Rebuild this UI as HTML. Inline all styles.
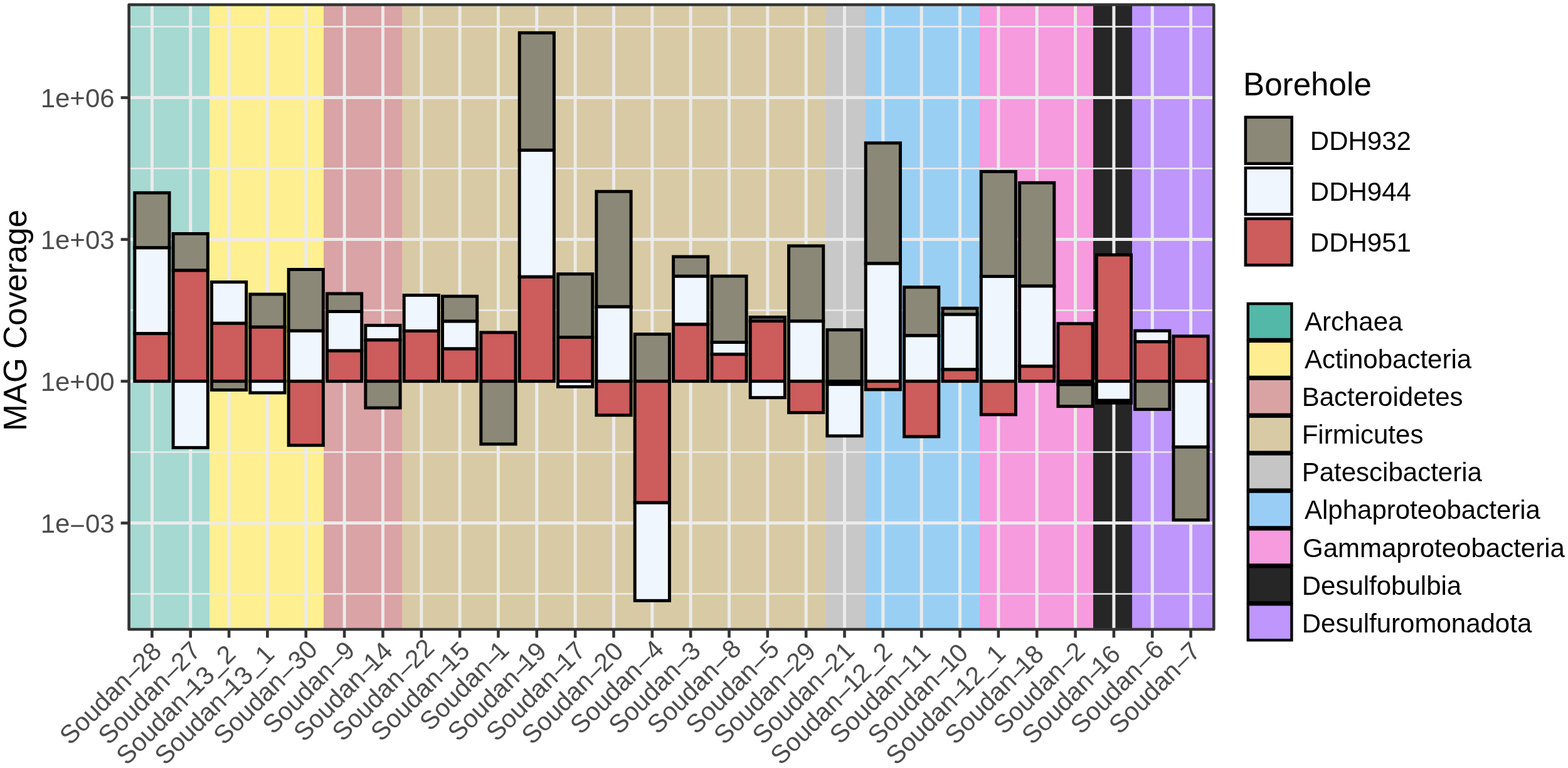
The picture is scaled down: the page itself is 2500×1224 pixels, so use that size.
<!DOCTYPE html>
<html><head><meta charset="utf-8"><title>MAG Coverage</title>
<style>html,body{margin:0;padding:0;background:#fff;overflow:hidden;}svg{display:block;}</style>
</head><body>
<svg width="2500" height="1224" viewBox="0 0 2500 1224">
<rect x="0" y="0" width="2500" height="1224" fill="#FFFFFF"/>
<g shape-rendering="crispEdges">
<rect x="205.6" y="7.5" width="128" height="995.5" fill="#A6D9D2"/>
<rect x="333.6" y="7.5" width="182.4" height="995.5" fill="#FEEF90"/>
<rect x="516" y="7.5" width="125.1" height="995.5" fill="#DAA3A5"/>
<rect x="641.1" y="7.5" width="675.3" height="995.5" fill="#D8CAA4"/>
<rect x="1316.4" y="7.5" width="63.6" height="995.5" fill="#C8C8C8"/>
<rect x="1380" y="7.5" width="181.8" height="995.5" fill="#9ACFF4"/>
<rect x="1561.8" y="7.5" width="181.2" height="995.5" fill="#F59BDE"/>
<rect x="1743" y="7.5" width="62.4" height="995.5" fill="#262626"/>
<rect x="1805.4" y="7.5" width="129.9" height="995.5" fill="#BE96FC"/>
</g>
<g stroke="#EBEBEB" fill="none">
<line x1="205.6" y1="42.62" x2="1935.3" y2="42.62" stroke-width="2.5"/>
<line x1="205.6" y1="268.62" x2="1935.3" y2="268.62" stroke-width="2.5"/>
<line x1="205.6" y1="494.61" x2="1935.3" y2="494.61" stroke-width="2.5"/>
<line x1="205.6" y1="720.6" x2="1935.3" y2="720.6" stroke-width="2.5"/>
<line x1="205.6" y1="946.59" x2="1935.3" y2="946.59" stroke-width="2.5"/>
<line x1="205.6" y1="155.62" x2="1935.3" y2="155.62" stroke-width="5"/>
<line x1="205.6" y1="381.61" x2="1935.3" y2="381.61" stroke-width="5"/>
<line x1="205.6" y1="607.6" x2="1935.3" y2="607.6" stroke-width="5"/>
<line x1="205.6" y1="833.59" x2="1935.3" y2="833.59" stroke-width="5"/>
<line x1="242.4" y1="7.5" x2="242.4" y2="1003" stroke-width="5"/>
<line x1="303.74" y1="7.5" x2="303.74" y2="1003" stroke-width="5"/>
<line x1="365.08" y1="7.5" x2="365.08" y2="1003" stroke-width="5"/>
<line x1="426.42" y1="7.5" x2="426.42" y2="1003" stroke-width="5"/>
<line x1="487.76" y1="7.5" x2="487.76" y2="1003" stroke-width="5"/>
<line x1="549.1" y1="7.5" x2="549.1" y2="1003" stroke-width="5"/>
<line x1="610.44" y1="7.5" x2="610.44" y2="1003" stroke-width="5"/>
<line x1="671.78" y1="7.5" x2="671.78" y2="1003" stroke-width="5"/>
<line x1="733.12" y1="7.5" x2="733.12" y2="1003" stroke-width="5"/>
<line x1="794.46" y1="7.5" x2="794.46" y2="1003" stroke-width="5"/>
<line x1="855.8" y1="7.5" x2="855.8" y2="1003" stroke-width="5"/>
<line x1="917.14" y1="7.5" x2="917.14" y2="1003" stroke-width="5"/>
<line x1="978.48" y1="7.5" x2="978.48" y2="1003" stroke-width="5"/>
<line x1="1039.82" y1="7.5" x2="1039.82" y2="1003" stroke-width="5"/>
<line x1="1101.16" y1="7.5" x2="1101.16" y2="1003" stroke-width="5"/>
<line x1="1162.5" y1="7.5" x2="1162.5" y2="1003" stroke-width="5"/>
<line x1="1223.84" y1="7.5" x2="1223.84" y2="1003" stroke-width="5"/>
<line x1="1285.18" y1="7.5" x2="1285.18" y2="1003" stroke-width="5"/>
<line x1="1346.52" y1="7.5" x2="1346.52" y2="1003" stroke-width="5"/>
<line x1="1407.86" y1="7.5" x2="1407.86" y2="1003" stroke-width="5"/>
<line x1="1469.2" y1="7.5" x2="1469.2" y2="1003" stroke-width="5"/>
<line x1="1530.54" y1="7.5" x2="1530.54" y2="1003" stroke-width="5"/>
<line x1="1591.88" y1="7.5" x2="1591.88" y2="1003" stroke-width="5"/>
<line x1="1653.22" y1="7.5" x2="1653.22" y2="1003" stroke-width="5"/>
<line x1="1714.56" y1="7.5" x2="1714.56" y2="1003" stroke-width="5"/>
<line x1="1775.9" y1="7.5" x2="1775.9" y2="1003" stroke-width="5"/>
<line x1="1837.24" y1="7.5" x2="1837.24" y2="1003" stroke-width="5"/>
<line x1="1898.58" y1="7.5" x2="1898.58" y2="1003" stroke-width="5"/>
</g>
<g stroke="#000000" stroke-width="5" stroke-linejoin="miter">
<rect x="214.8" y="307.3" width="55.2" height="87.6" fill="#8B8878"/>
<rect x="214.8" y="394.9" width="55.2" height="136.7" fill="#F0F6FD"/>
<rect x="214.8" y="531.6" width="55.2" height="76" fill="#CD5C5C"/>
<rect x="276.14" y="372.5" width="55.2" height="58.5" fill="#8B8878"/>
<rect x="276.14" y="431" width="55.2" height="176.6" fill="#CD5C5C"/>
<rect x="276.14" y="607.6" width="55.2" height="105.8" fill="#F0F6FD"/>
<rect x="337.48" y="449.5" width="55.2" height="65.8" fill="#F0F6FD"/>
<rect x="337.48" y="515.3" width="55.2" height="92.3" fill="#CD5C5C"/>
<rect x="337.48" y="607.6" width="55.2" height="13.9" fill="#8B8878"/>
<rect x="398.82" y="469" width="55.2" height="52.3" fill="#8B8878"/>
<rect x="398.82" y="521.3" width="55.2" height="86.3" fill="#CD5C5C"/>
<rect x="398.82" y="607.6" width="55.2" height="18.4" fill="#F0F6FD"/>
<rect x="460.16" y="429.5" width="55.2" height="97.8" fill="#8B8878"/>
<rect x="460.16" y="527.3" width="55.2" height="80.3" fill="#F0F6FD"/>
<rect x="460.16" y="607.6" width="55.2" height="102.1" fill="#CD5C5C"/>
<rect x="521.5" y="468" width="55.2" height="28.5" fill="#8B8878"/>
<rect x="521.5" y="496.5" width="55.2" height="62.6" fill="#F0F6FD"/>
<rect x="521.5" y="559.1" width="55.2" height="48.5" fill="#CD5C5C"/>
<rect x="582.84" y="518.6" width="55.2" height="23.3" fill="#F0F6FD"/>
<rect x="582.84" y="541.9" width="55.2" height="65.7" fill="#CD5C5C"/>
<rect x="582.84" y="607.6" width="55.2" height="42.4" fill="#8B8878"/>
<rect x="644.18" y="470.5" width="55.2" height="57" fill="#F0F6FD"/>
<rect x="644.18" y="527.5" width="55.2" height="80.1" fill="#CD5C5C"/>
<rect x="705.52" y="472.2" width="55.2" height="39.9" fill="#8B8878"/>
<rect x="705.52" y="512.1" width="55.2" height="43.9" fill="#F0F6FD"/>
<rect x="705.52" y="556" width="55.2" height="51.6" fill="#CD5C5C"/>
<rect x="766.86" y="529.9" width="55.2" height="77.7" fill="#CD5C5C"/>
<rect x="766.86" y="607.6" width="55.2" height="100.2" fill="#8B8878"/>
<rect x="828.2" y="52.3" width="55.2" height="187.1" fill="#8B8878"/>
<rect x="828.2" y="239.4" width="55.2" height="201.9" fill="#F0F6FD"/>
<rect x="828.2" y="441.3" width="55.2" height="166.3" fill="#CD5C5C"/>
<rect x="889.54" y="436.7" width="55.2" height="100.8" fill="#8B8878"/>
<rect x="889.54" y="537.5" width="55.2" height="70.1" fill="#CD5C5C"/>
<rect x="889.54" y="607.6" width="55.2" height="8.8" fill="#F0F6FD"/>
<rect x="950.88" y="305.2" width="55.2" height="183.8" fill="#8B8878"/>
<rect x="950.88" y="489" width="55.2" height="118.6" fill="#F0F6FD"/>
<rect x="950.88" y="607.6" width="55.2" height="54.1" fill="#CD5C5C"/>
<rect x="1012.22" y="532.6" width="55.2" height="75" fill="#8B8878"/>
<rect x="1012.22" y="607.6" width="55.2" height="193.6" fill="#CD5C5C"/>
<rect x="1012.22" y="801.2" width="55.2" height="156.1" fill="#F0F6FD"/>
<rect x="1073.56" y="409.1" width="55.2" height="31.2" fill="#8B8878"/>
<rect x="1073.56" y="440.3" width="55.2" height="76.7" fill="#F0F6FD"/>
<rect x="1073.56" y="517" width="55.2" height="90.6" fill="#CD5C5C"/>
<rect x="1134.9" y="440.1" width="55.2" height="105.4" fill="#8B8878"/>
<rect x="1134.9" y="545.5" width="55.2" height="19.2" fill="#F0F6FD"/>
<rect x="1134.9" y="564.7" width="55.2" height="42.9" fill="#CD5C5C"/>
<rect x="1196.24" y="505.5" width="55.2" height="6.2" fill="#8B8878"/>
<rect x="1196.24" y="511.7" width="55.2" height="95.9" fill="#CD5C5C"/>
<rect x="1196.24" y="607.6" width="55.2" height="26.1" fill="#F0F6FD"/>
<rect x="1257.58" y="391.9" width="55.2" height="120" fill="#8B8878"/>
<rect x="1257.58" y="511.9" width="55.2" height="95.7" fill="#F0F6FD"/>
<rect x="1257.58" y="607.6" width="55.2" height="50" fill="#CD5C5C"/>
<rect x="1318.92" y="525.7" width="55.2" height="81.9" fill="#8B8878"/>
<rect x="1318.92" y="607.6" width="55.2" height="5" fill="#CD5C5C"/>
<rect x="1318.92" y="612.6" width="55.2" height="82.2" fill="#F0F6FD"/>
<rect x="1380.26" y="227.9" width="55.2" height="192.1" fill="#8B8878"/>
<rect x="1380.26" y="420" width="55.2" height="187.6" fill="#F0F6FD"/>
<rect x="1380.26" y="607.6" width="55.2" height="13.3" fill="#CD5C5C"/>
<rect x="1441.6" y="457.7" width="55.2" height="77.2" fill="#8B8878"/>
<rect x="1441.6" y="534.9" width="55.2" height="72.7" fill="#F0F6FD"/>
<rect x="1441.6" y="607.6" width="55.2" height="88.3" fill="#CD5C5C"/>
<rect x="1502.94" y="491.3" width="55.2" height="9.9" fill="#8B8878"/>
<rect x="1502.94" y="501.2" width="55.2" height="87.8" fill="#F0F6FD"/>
<rect x="1502.94" y="589" width="55.2" height="18.6" fill="#CD5C5C"/>
<rect x="1564.28" y="273.5" width="55.2" height="167" fill="#8B8878"/>
<rect x="1564.28" y="440.5" width="55.2" height="167.1" fill="#F0F6FD"/>
<rect x="1564.28" y="607.6" width="55.2" height="53.2" fill="#CD5C5C"/>
<rect x="1625.62" y="291.3" width="55.2" height="164.7" fill="#8B8878"/>
<rect x="1625.62" y="456" width="55.2" height="127.8" fill="#F0F6FD"/>
<rect x="1625.62" y="583.8" width="55.2" height="23.8" fill="#CD5C5C"/>
<rect x="1686.96" y="515.8" width="55.2" height="91.8" fill="#CD5C5C"/>
<rect x="1686.96" y="607.6" width="55.2" height="5.3" fill="#F0F6FD"/>
<rect x="1686.96" y="612.9" width="55.2" height="34.7" fill="#8B8878"/>
<rect x="1748.3" y="406.2" width="55.2" height="201.4" fill="#CD5C5C"/>
<rect x="1748.3" y="607.6" width="55.2" height="30.7" fill="#F0F6FD"/>
<rect x="1748.3" y="638.3" width="55.2" height="3.9" fill="#8B8878"/>
<rect x="1809.64" y="527.2" width="55.2" height="17.5" fill="#F0F6FD"/>
<rect x="1809.64" y="544.7" width="55.2" height="62.9" fill="#CD5C5C"/>
<rect x="1809.64" y="607.6" width="55.2" height="44.8" fill="#8B8878"/>
<rect x="1870.98" y="535.8" width="55.2" height="71.8" fill="#CD5C5C"/>
<rect x="1870.98" y="607.6" width="55.2" height="104.8" fill="#F0F6FD"/>
<rect x="1870.98" y="712.4" width="55.2" height="116.4" fill="#8B8878"/>
</g>
<rect x="205.6" y="7.5" width="1729.7" height="995.5" fill="none" stroke="#333333" stroke-width="4.6" stroke-linejoin="round"/>
<g stroke="#333333" stroke-width="4.6">
<line x1="192.6" y1="155.62" x2="205.6" y2="155.62"/>
<line x1="192.6" y1="381.61" x2="205.6" y2="381.61"/>
<line x1="192.6" y1="607.6" x2="205.6" y2="607.6"/>
<line x1="192.6" y1="833.59" x2="205.6" y2="833.59"/>
<line x1="242.4" y1="1003" x2="242.4" y2="1016.3"/>
<line x1="303.74" y1="1003" x2="303.74" y2="1016.3"/>
<line x1="365.08" y1="1003" x2="365.08" y2="1016.3"/>
<line x1="426.42" y1="1003" x2="426.42" y2="1016.3"/>
<line x1="487.76" y1="1003" x2="487.76" y2="1016.3"/>
<line x1="549.1" y1="1003" x2="549.1" y2="1016.3"/>
<line x1="610.44" y1="1003" x2="610.44" y2="1016.3"/>
<line x1="671.78" y1="1003" x2="671.78" y2="1016.3"/>
<line x1="733.12" y1="1003" x2="733.12" y2="1016.3"/>
<line x1="794.46" y1="1003" x2="794.46" y2="1016.3"/>
<line x1="855.8" y1="1003" x2="855.8" y2="1016.3"/>
<line x1="917.14" y1="1003" x2="917.14" y2="1016.3"/>
<line x1="978.48" y1="1003" x2="978.48" y2="1016.3"/>
<line x1="1039.82" y1="1003" x2="1039.82" y2="1016.3"/>
<line x1="1101.16" y1="1003" x2="1101.16" y2="1016.3"/>
<line x1="1162.5" y1="1003" x2="1162.5" y2="1016.3"/>
<line x1="1223.84" y1="1003" x2="1223.84" y2="1016.3"/>
<line x1="1285.18" y1="1003" x2="1285.18" y2="1016.3"/>
<line x1="1346.52" y1="1003" x2="1346.52" y2="1016.3"/>
<line x1="1407.86" y1="1003" x2="1407.86" y2="1016.3"/>
<line x1="1469.2" y1="1003" x2="1469.2" y2="1016.3"/>
<line x1="1530.54" y1="1003" x2="1530.54" y2="1016.3"/>
<line x1="1591.88" y1="1003" x2="1591.88" y2="1016.3"/>
<line x1="1653.22" y1="1003" x2="1653.22" y2="1016.3"/>
<line x1="1714.56" y1="1003" x2="1714.56" y2="1016.3"/>
<line x1="1775.9" y1="1003" x2="1775.9" y2="1016.3"/>
<line x1="1837.24" y1="1003" x2="1837.24" y2="1016.3"/>
<line x1="1898.58" y1="1003" x2="1898.58" y2="1016.3"/>
</g>
<g font-family="'Liberation Sans', Arial, Helvetica, sans-serif" font-size="42" fill="#4D4D4D" text-anchor="end">
<text transform="translate(182.6 170.82)">1e+06</text>
<text transform="translate(182.6 396.81)">1e+03</text>
<text transform="translate(182.6 622.8)">1e+00</text>
<text transform="translate(182.6 848.79)">1e<tspan dy="3.4">−</tspan><tspan dy="-3.4">03</tspan></text>
<text font-size="41" text-anchor="start" transform="translate(259.9 1040.7) rotate(-45)" x="-209.28" dx="0 0 0 0 0 0 2.32 -2.8 0">Soudan–28</text>
<text font-size="41" text-anchor="start" transform="translate(321.24 1040.7) rotate(-45)" x="-209.08" dx="0 0 0 0 0 0 2.12 -2 0.7">Soudan–27</text>
<text font-size="41" text-anchor="start" transform="translate(378.34 1044.94) rotate(-45)" x="-248.91" dx="0 0 0 0 0 0 1.82 -10.3 0 1.02 0.5" dy="0 0 0 0 0 0 0 0 0 -2.7 2.7">Soudan–13_2</text>
<text font-size="41" text-anchor="start" transform="translate(439.68 1044.94) rotate(-45)" x="-249.01" dx="0 0 0 0 0 0 1.62 -10 0 0.82 1.2" dy="0 0 0 0 0 0 0 0 0 -2.7 2.7">Soudan–13_1</text>
<text font-size="41" text-anchor="start" transform="translate(505.26 1040.7) rotate(-45)" x="-209.28" dx="0 0 0 0 0 0 2.32 1.4 0.3">Soudan–30</text>
<text font-size="41" text-anchor="start" transform="translate(566.6 1040.7) rotate(-45)" x="-185.38" dx="0 0 0 0 0 0 1.72 -1.1">Soudan–9</text>
<text font-size="41" text-anchor="start" transform="translate(627.94 1040.7) rotate(-45)" x="-202.28" dx="0 0 0 0 0 0 2.02 -8.4 -0.6">Soudan–14</text>
<text font-size="41" text-anchor="start" transform="translate(689.28 1040.7) rotate(-45)" x="-201.78" dx="0 0 0 0 0 0 1.82 -2.2 0.3">Soudan–22</text>
<text font-size="41" text-anchor="start" transform="translate(750.62 1040.7) rotate(-45)" x="-201.58" dx="0 0 0 0 0 0 1.82 -9 0">Soudan–15</text>
<text font-size="41" text-anchor="start" transform="translate(811.96 1040.7) rotate(-45)" x="-177.98" dx="0 0 0 0 0 0 2.02 -8">Soudan–1</text>
<text font-size="41" text-anchor="start" transform="translate(873.3 1040.7) rotate(-45)" x="-201.78" dx="0 0 0 0 0 0 2.02 -8.7 -0.8">Soudan–19</text>
<text font-size="41" text-anchor="start" transform="translate(934.64 1040.7) rotate(-45)" x="-201.78" dx="0 0 0 0 0 0 1.82 -7.8 -0.4">Soudan–17</text>
<text font-size="41" text-anchor="start" transform="translate(995.98 1040.7) rotate(-45)" x="-208.58" dx="0 0 0 0 0 0 1.82 -3 0.3">Soudan–20</text>
<text font-size="41" text-anchor="start" transform="translate(1057.32 1040.7) rotate(-45)" x="-185.78" dx="0 0 0 0 0 0 2.12 1.4">Soudan–4</text>
<text font-size="41" text-anchor="start" transform="translate(1118.66 1040.7) rotate(-45)" x="-185.68" dx="0 0 0 0 0 0 1.92 -1.9">Soudan–3</text>
<text font-size="41" text-anchor="start" transform="translate(1180 1040.7) rotate(-45)" x="-185.48" dx="0 0 0 0 0 0 2.12 2.3">Soudan–8</text>
<text font-size="41" text-anchor="start" transform="translate(1241.34 1040.7) rotate(-45)" x="-185.48" dx="0 0 0 0 0 0 1.92 1.6">Soudan–5</text>
<text font-size="41" text-anchor="start" transform="translate(1302.68 1040.7) rotate(-45)" x="-208.78" dx="0 0 0 0 0 0 2.02 -2.7 0">Soudan–29</text>
<text font-size="41" text-anchor="start" transform="translate(1364.02 1040.7) rotate(-45)" x="-208.58" dx="0 0 0 0 0 0 1.82 -3 0.7">Soudan–21</text>
<text font-size="41" text-anchor="start" transform="translate(1421.12 1044.94) rotate(-45)" x="-248.61" dx="0 0 0 0 0 0 1.22 -2.5 -1.3 0.42 0.7" dy="0 0 0 0 0 0 0 0 0 -2.7 2.7">Soudan–12_2</text>
<text font-size="41" text-anchor="start" transform="translate(1486.7 1040.7) rotate(-45)" x="-207.73" dx="0 0 0 0 0 0 0.92 -4.2 2.9">Soudan–11</text>
<text font-size="41" text-anchor="start" transform="translate(1548.04 1040.7) rotate(-45)" x="-208.58" dx="0 0 0 0 0 0 1.72 -4.6 -1.5">Soudan–10</text>
<text font-size="41" text-anchor="start" transform="translate(1605.14 1044.94) rotate(-45)" x="-248.91" dx="0 0 0 0 0 0 1.52 -9.4 -0.2 0.82 1.8" dy="0 0 0 0 0 0 0 0 0 -2.7 2.7">Soudan–12_1</text>
<text font-size="41" text-anchor="start" transform="translate(1670.72 1040.7) rotate(-45)" x="-208.58" dx="0 0 0 0 0 0 2.02 -8.6 -0.5">Soudan–18</text>
<text font-size="41" text-anchor="start" transform="translate(1732.06 1040.7) rotate(-45)" x="-185.78" dx="0 0 0 0 0 0 1.82 -2.6">Soudan–2</text>
<text font-size="41" text-anchor="start" transform="translate(1793.4 1040.7) rotate(-45)" x="-208.58" dx="0 0 0 0 0 0 1.62 -9.1 -0.1">Soudan–16</text>
<text font-size="41" text-anchor="start" transform="translate(1854.74 1040.7) rotate(-45)" x="-185.38" dx="0 0 0 0 0 0 2.02 1.1">Soudan–6</text>
<text font-size="41" text-anchor="start" transform="translate(1916.08 1040.7) rotate(-45)" x="-185.38" dx="0 0 0 0 0 0 1.92 -3">Soudan–7</text>
</g>
<text font-family="'Liberation Sans', Arial, Helvetica, sans-serif" font-size="51.2" fill="#000000" text-anchor="middle" transform="translate(42.3 510.5) rotate(-90)">MAG Coverage</text>
<g font-family="'Liberation Sans', Arial, Helvetica, sans-serif" fill="#000000">
<text transform="translate(1982 152)" font-size="51.2">Borehole</text>
<rect x="1985.9" y="186.8" width="73.8" height="73.9" fill="#8B8878" stroke="#000000" stroke-width="4.6"/>
<text transform="translate(2088.8 238.75)" font-size="42">DDH932</text>
<rect x="1985.9" y="267.7" width="73.8" height="73.9" fill="#F0F6FD" stroke="#000000" stroke-width="4.6"/>
<text transform="translate(2088.8 319.65)" font-size="42">DDH944</text>
<rect x="1985.9" y="348.6" width="73.8" height="73.9" fill="#CD5C5C" stroke="#000000" stroke-width="4.6"/>
<text transform="translate(2088.8 400.55)" font-size="42">DDH951</text>
<rect x="1989.8" y="484" width="69.6" height="57.0" fill="#53B8A7" stroke="#000000" stroke-width="4.4"/>
<text transform="translate(2080 526.6)" font-size="42">Archaea</text>
<rect x="1989.8" y="543.9" width="69.6" height="57.0" fill="#FEEE91" stroke="#000000" stroke-width="4.4"/>
<text transform="translate(2080 586.75)" font-size="42">Actinobacteria</text>
<rect x="1989.8" y="603.8" width="69.6" height="57.0" fill="#D9A3A3" stroke="#000000" stroke-width="4.4"/>
<text transform="translate(2075.7 646.9)" font-size="42">Bacteroidetes</text>
<rect x="1989.8" y="663.7" width="69.6" height="57.0" fill="#D8CAA4" stroke="#000000" stroke-width="4.4"/>
<text transform="translate(2075.7 707.05)" font-size="42">Firmicutes</text>
<rect x="1989.8" y="723.6" width="69.6" height="57.0" fill="#C5C5C5" stroke="#000000" stroke-width="4.4"/>
<text transform="translate(2075.7 767.2)" font-size="42">Patescibacteria</text>
<rect x="1989.8" y="783.5" width="69.6" height="57.0" fill="#99CDF5" stroke="#000000" stroke-width="4.4"/>
<text transform="translate(2080 827.35)" font-size="42">Alphaproteobacteria</text>
<rect x="1989.8" y="843.4" width="69.6" height="57.0" fill="#F59BDE" stroke="#000000" stroke-width="4.4"/>
<text transform="translate(2077 887.5)" font-size="42">Gammaproteobacteria</text>
<rect x="1989.8" y="903.3" width="69.6" height="57.0" fill="#262626" stroke="#000000" stroke-width="4.4"/>
<text transform="translate(2075.7 947.65)" font-size="42">Desulfobulbia</text>
<rect x="1989.8" y="963.2" width="69.6" height="57.0" fill="#BE96FC" stroke="#000000" stroke-width="4.4"/>
<text transform="translate(2075.7 1007.8)" font-size="42">Desulfuromonadota</text>
</g>
</svg>
</body></html>
